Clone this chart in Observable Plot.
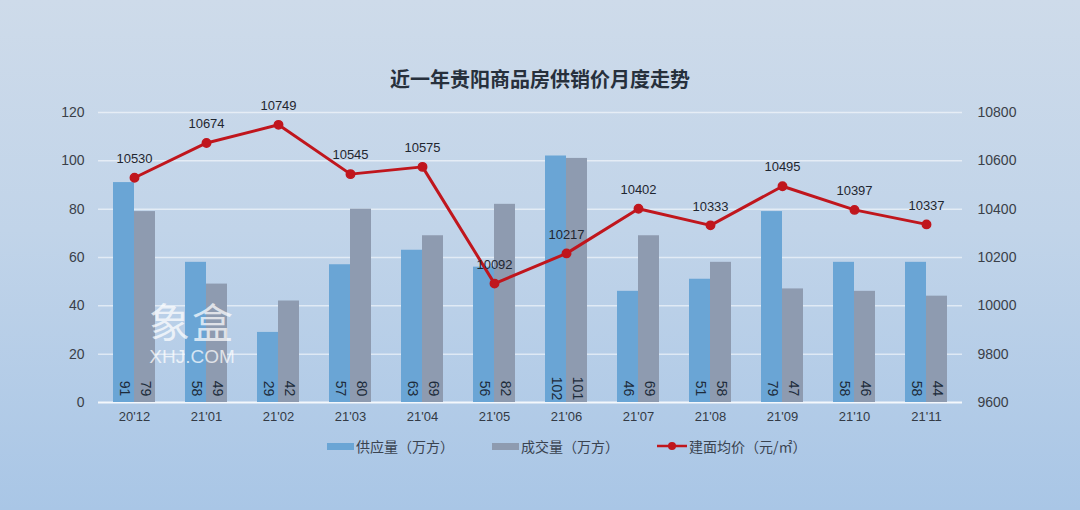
<!DOCTYPE html>
<html><head><meta charset="utf-8">
<script src="https://cdn.jsdelivr.net/npm/d3@7"></script>
<script src="https://cdn.jsdelivr.net/npm/@observablehq/plot@0.6"></script>
<style>
html,body{margin:0;padding:0;}
body{width:1080px;height:510px;overflow:hidden;font-family:"Liberation Sans","Noto Sans CJK SC",sans-serif;}
#wrap{position:relative;width:1080px;height:510px;background:linear-gradient(180deg,#cedbea 0%,#c1d4e9 45%,#a9c6e6 100%);}
#title{position:absolute;top:64px;left:0;width:1080px;text-align:center;font-family:"Noto Sans CJK SC",sans-serif;font-weight:700;font-size:20px;color:#27303c;}
#chart{position:absolute;left:0;top:0;}
#legend{position:absolute;top:436px;left:327px;display:flex;align-items:center;font-family:"Noto Sans CJK SC",sans-serif;font-size:14px;color:#3a4350;}
.item{display:flex;align-items:center;margin-right:38px;}
.sw{width:27px;height:7px;margin-right:2px;}
#wm{position:absolute;left:149px;top:300px;color:rgba(255,255,255,0.72);font-family:"Noto Sans CJK SC",sans-serif;text-align:center;line-height:1;}
#wm .a{font-size:41px;letter-spacing:2px;}
#wm .b{font-size:19px;font-family:"Liberation Sans",sans-serif;margin-top:6px;}
</style></head>
<body>
<div id="wrap">
<div id="chart"></div>
<div id="title">近一年贵阳商品房供销价月度走势</div>
<div id="wm"><div class="a">象盒</div><div class="b">XHJ.COM</div></div>
<div id="legend"></div>
</div>
<script>
const months = ["20'12","21'01","21'02","21'03","21'04","21'05","21'06","21'07","21'08","21'09","21'10","21'11"];
const supply = [91,58,29,57,63,56,102,46,51,79,58,58];
const sales = [79,49,42,80,69,82,101,69,58,47,46,44];
const price = [10530,10674,10749,10545,10575,10092,10217,10402,10333,10495,10397,10337];
const leftTicks = [0,20,40,60,80,100,120];
const rightTicks = [9600,9800,10000,10200,10400,10600,10800];
const seriesNames = ["供应量（万方）","成交量（万方）","建面均价（元/㎡）"];
const colors = {supply:"#6aa5d5", sales:"#8e9bb0", price:"#c0161d"};

const pMin = 9600, pMax = 10800;
const toLeft = p => (p - pMin) / (pMax - pMin) * 120;

const supplyData = months.map((m,i)=>({m, v:supply[i]}));
const salesData = months.map((m,i)=>({m, v:sales[i]}));
const priceData = months.map((m,i)=>({m, p:price[i], y:toLeft(price[i])}));

const font = '"Liberation Sans","Noto Sans CJK SC",sans-serif';

const plot = Plot.plot({
  width:1080, height:510,
  marginTop:112, marginBottom:108, marginLeft:98, marginRight:118,
  style:{background:"transparent", fontFamily:font, fontSize:"13px", color:"#3a3f48", overflow:"visible"},
  x:{type:"band", domain:months, padding:0, label:null},
  y:{domain:[0,120], label:null},
  marks:[
    Plot.ruleY(leftTicks.filter(d=>d>0), {stroke:"#ffffff", strokeOpacity:0.55, strokeWidth:1.5}),
    Plot.ruleY([0], {stroke:"#ffffff", strokeOpacity:0.85, strokeWidth:2}),
    Plot.barY(supplyData, {x:"m", y:"v", fill:colors.supply, insetLeft:15, insetRight:36}),
    Plot.barY(salesData, {x:"m", y:"v", fill:colors.sales, insetLeft:36, insetRight:15}),
    Plot.text(supplyData, {x:"m", y:()=>0, text:d=>String(d.v), rotate:90, dx:-10.5, dy:-14, fontSize:14, fill:"#1d2b3a"}),
    Plot.text(salesData, {x:"m", y:()=>0, text:d=>String(d.v), rotate:90, dx:10.5, dy:-14, fontSize:14, fill:"#1d2b3a"}),
    Plot.line(priceData, {x:"m", y:"y", stroke:colors.price, strokeWidth:3}),
    Plot.dot(priceData, {x:"m", y:"y", r:4.2, fill:colors.price, stroke:colors.price}),
    Plot.text(priceData, {x:"m", y:"y", text:d=>String(d.p), dy:-19, fontSize:13, fill:"#1f2630"}),
    Plot.axisX({tickSize:0, tickPadding:9, fontSize:13, fill:"#333a45", label:null}),
    Plot.axisY({anchor:"left", ticks:leftTicks, tickSize:0, tickPadding:14, fontSize:14, fill:"#3a3f48", label:null}),
    Plot.axisY({anchor:"right", ticks:rightTicks.map(toLeft), tickFormat:d=>String(Math.round(pMin + d/120*(pMax-pMin))), tickSize:0, tickPadding:15, fontSize:14, fill:"#3a3f48", label:null})
  ]
});
document.getElementById("chart").appendChild(plot);

const legend = document.getElementById("legend");
const items = [
  {name:seriesNames[0], type:"bar", color:colors.supply},
  {name:seriesNames[1], type:"bar", color:colors.sales},
  {name:seriesNames[2], type:"line", color:colors.price}
];
items.forEach(it=>{
  const d = document.createElement("div"); d.className="item";
  if(it.type==="bar"){
    const s=document.createElement("div"); s.className="sw"; s.style.background=it.color; d.appendChild(s);
  } else {
    const s=document.createElementNS("http://www.w3.org/2000/svg","svg");
    s.setAttribute("width","30"); s.setAttribute("height","10"); s.style.marginRight="2px";
    s.innerHTML=`<line x1="0" y1="5" x2="30" y2="5" stroke="${it.color}" stroke-width="2.5"/><circle cx="15" cy="5" r="4" fill="${it.color}"/>`;
    d.appendChild(s);
  }
  const t=document.createElement("span"); t.textContent=it.name; d.appendChild(t);
  legend.appendChild(d);
});
</script>
</body></html>
